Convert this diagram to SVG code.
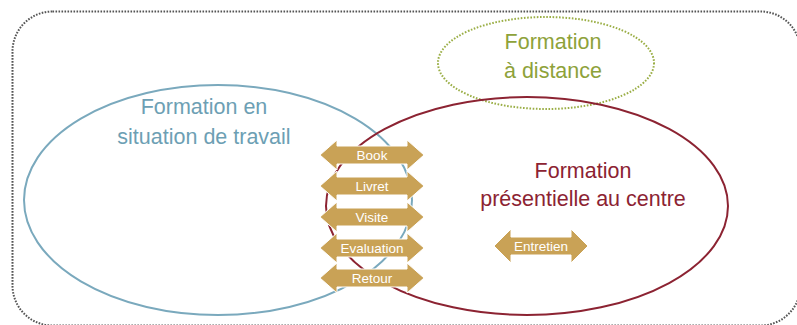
<svg xmlns="http://www.w3.org/2000/svg" width="797" height="325" viewBox="0 0 797 325">
<style>
  text { font-family: "Liberation Sans", Arial, sans-serif; text-anchor: middle; }
  .big { font-size: 21.5px; }
  .blue { fill: #6d9fb4; }
  .red { fill: #8c2332; }
  .green { fill: #8ea23a; }
  .arr { fill: #c9a256; stroke: #ffffff; stroke-width: 1; }
  .lbl { font-size: 13.5px; fill: #ffffff; }
</style>
<defs>
  <path id="dbl" d="M-52,0 L-35,-15 L-35,-9 L35,-9 L35,-15 L52,0 L35,15 L35,9 L-35,9 L-35,15 Z"/>
  <path id="dbl2" d="M-47,0 L-30,-17 L-30,-9 L30,-9 L30,-17 L47,0 L30,17 L30,9 L-30,9 L-30,17 Z"/>
</defs>
<rect x="12.5" y="11.5" width="788" height="314" rx="40" fill="none" stroke="#555" stroke-width="2" stroke-dasharray="1.6 1.4"/>
<g id="distance">
  <ellipse cx="546" cy="63" rx="108" ry="46" fill="none" stroke="#9aae45" stroke-width="2" stroke-dasharray="1.6 1.6"/>
  <text class="big green" x="553" y="49">Formation</text>
  <text class="big green" x="553" y="78">à distance</text>
</g>
<g id="situation">
  <ellipse cx="218" cy="200" rx="194" ry="115" fill="none" stroke="#7aa9bd" stroke-width="2"/>
  <text class="big blue" x="204" y="114">Formation en</text>
  <text class="big blue" x="204" y="144">situation de travail</text>
</g>
<g id="presentielle">
  <ellipse cx="527" cy="206" rx="201" ry="109" fill="none" stroke="#8c2332" stroke-width="2"/>
  <text class="big red" x="583" y="178">Formation</text>
  <text class="big red" x="583" y="206">présentielle au centre</text>
</g>
<g id="connectors"></g>
<g id="book">
  <use href="#dbl" class="arr" x="372" y="155"/>
  <text class="lbl" x="372" y="160">Book</text>
</g>
<g id="livret">
  <use href="#dbl" class="arr" x="372" y="186"/>
  <text class="lbl" x="372" y="191">Livret</text>
</g>
<g id="visite">
  <use href="#dbl" class="arr" x="372" y="217"/>
  <text class="lbl" x="372" y="222">Visite</text>
</g>
<g id="evaluation">
  <use href="#dbl" class="arr" x="372" y="248"/>
  <text class="lbl" x="372" y="253">Evaluation</text>
</g>
<g id="retour">
  <use href="#dbl" class="arr" x="372" y="278"/>
  <text class="lbl" x="372" y="283">Retour</text>
</g>
<g id="entretien">
  <use href="#dbl2" class="arr" x="541" y="246"/>
  <text class="lbl" x="541" y="251">Entretien</text>
</g>
</svg>
